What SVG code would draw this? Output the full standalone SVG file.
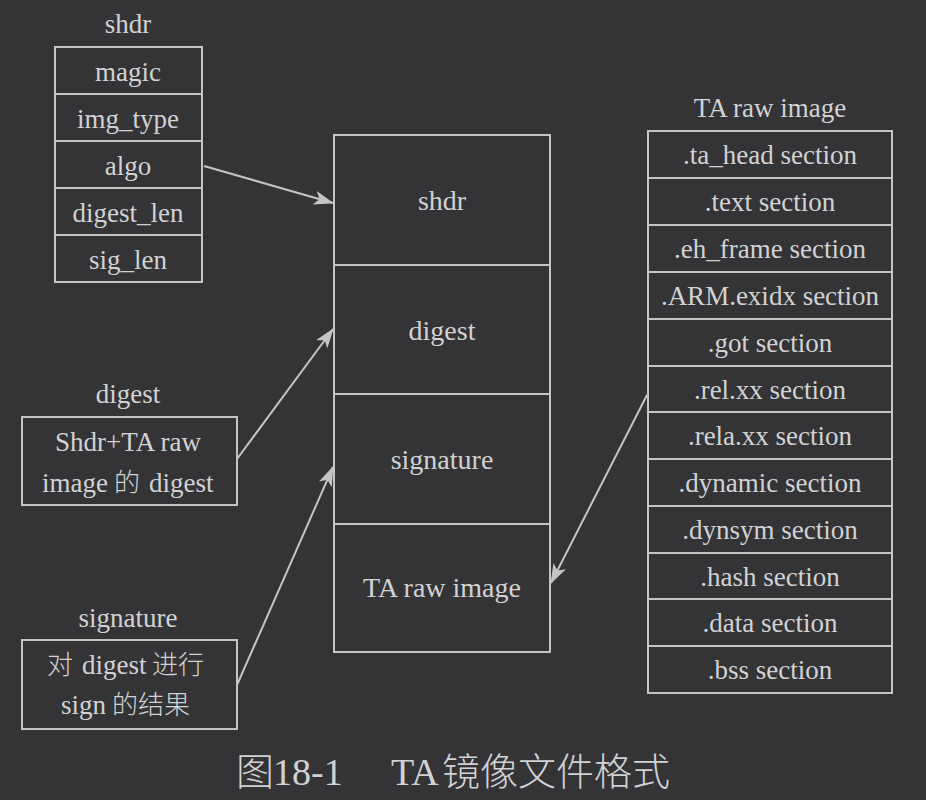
<svg xmlns="http://www.w3.org/2000/svg" width="926" height="800" viewBox="0 0 926 800">
<style>
.bx{fill:none;stroke:#c4c4c6;stroke-width:2}
.t{font-family:"Liberation Serif",serif;fill:#d2d2d4;text-anchor:middle;font-size:27px}
.s{font-family:"Liberation Serif",serif;fill:#d2d2d4;font-size:27px}
.m{font-size:28px}
.cj{font-family:"Noto Sans CJK SC",sans-serif;fill:#d2d2d4;font-size:26px;font-weight:300}
.cap{font-family:"Liberation Serif",serif;fill:#d2d2d4;font-size:38px}
.capc{font-family:"Noto Sans CJK SC",sans-serif;fill:#d2d2d4;font-size:38px;font-weight:300}
.c{stroke:#c4c4c6;stroke-width:2;fill:none;marker-end:url(#ah)}
</style>
<defs>
<marker id="ah" viewBox="0 0 20 14" refX="19" refY="7" markerWidth="20" markerHeight="14" markerUnits="userSpaceOnUse" orient="auto">
<path d="M0,0 L20,7 L0,14 L5,7 z" fill="#c4c4c6"/>
</marker>
</defs>
<rect width="926" height="800" fill="#343437"/>

<g id="shdr-table">
<text class="t" x="128" y="33">shdr</text>
<rect class="bx" x="55" y="47" width="147" height="235"/>
<line class="bx" x1="55" y1="94" x2="202" y2="94"/>
<line class="bx" x1="55" y1="141" x2="202" y2="141"/>
<line class="bx" x1="55" y1="188" x2="202" y2="188"/>
<line class="bx" x1="55" y1="235" x2="202" y2="235"/>
<text class="t" x="128" y="81">magic</text>
<text class="t" x="128" y="128">img_type</text>
<text class="t" x="128" y="175">algo</text>
<text class="t" x="128" y="222">digest_len</text>
<text class="t" x="128" y="269">sig_len</text>
</g>

<g id="digest-box">
<text class="t" x="128" y="403">digest</text>
<rect class="bx" x="22" y="417" width="215" height="88"/>
<text class="t" x="128" y="451">Shdr+TA raw</text>
<text class="s" x="42" y="492">image</text>
<text class="cj" x="114" y="492">的</text>
<text class="s" x="149" y="492">digest</text>
</g>

<g id="signature-box">
<text class="t" x="128" y="627">signature</text>
<rect class="bx" x="22" y="640" width="215" height="89"/>
<text class="cj" x="47" y="674">对</text>
<text class="s" x="82" y="674">digest</text>
<text class="cj" x="152" y="674">进行</text>
<text class="s" x="61" y="714">sign</text>
<text class="cj" x="112" y="714">的结果</text>
</g>

<g id="image-layout">
<rect class="bx" x="334" y="135" width="216" height="517"/>
<line class="bx" x1="334" y1="265" x2="550" y2="265"/>
<line class="bx" x1="334" y1="394" x2="550" y2="394"/>
<line class="bx" x1="334" y1="524" x2="550" y2="524"/>
<text class="t m" x="442" y="210">shdr</text>
<text class="t m" x="442" y="340">digest</text>
<text class="t m" x="442" y="469">signature</text>
<text class="t m" x="442" y="597">TA raw image</text>
</g>

<g id="ta-raw-image">
<text class="t" x="770" y="117">TA raw image</text>
<rect class="bx" x="648" y="131" width="244" height="562"/>
<line class="bx" x1="648" y1="178" x2="892" y2="178"/>
<line class="bx" x1="648" y1="225" x2="892" y2="225"/>
<line class="bx" x1="648" y1="272" x2="892" y2="272"/>
<line class="bx" x1="648" y1="319" x2="892" y2="319"/>
<line class="bx" x1="648" y1="366" x2="892" y2="366"/>
<line class="bx" x1="648" y1="412" x2="892" y2="412"/>
<line class="bx" x1="648" y1="459" x2="892" y2="459"/>
<line class="bx" x1="648" y1="506" x2="892" y2="506"/>
<line class="bx" x1="648" y1="553" x2="892" y2="553"/>
<line class="bx" x1="648" y1="599" x2="892" y2="599"/>
<line class="bx" x1="648" y1="646" x2="892" y2="646"/>
<text class="t" x="770" y="164">.ta_head section</text>
<text class="t" x="770" y="211">.text section</text>
<text class="t" x="770" y="258">.eh_frame section</text>
<text class="t" x="770" y="305">.ARM.exidx section</text>
<text class="t" x="770" y="352">.got section</text>
<text class="t" x="770" y="399">.rel.xx section</text>
<text class="t" x="770" y="445">.rela.xx section</text>
<text class="t" x="770" y="492">.dynamic section</text>
<text class="t" x="770" y="539">.dynsym section</text>
<text class="t" x="770" y="586">.hash section</text>
<text class="t" x="770" y="632">.data section</text>
<text class="t" x="770" y="679">.bss section</text>
</g>

<g id="connectors">
<line class="c" x1="204" y1="166" x2="333" y2="203"/>
<line class="c" x1="237" y1="459" x2="333" y2="329"/>
<line class="c" x1="237" y1="685" x2="333" y2="467"/>
<line class="c" x1="647" y1="395" x2="551" y2="583"/>
</g>

<g id="caption">
<text class="capc" x="236" y="785">图</text>
<text class="cap" x="273" y="785">18-1</text>
<text class="cap" x="391" y="785">TA</text>
<text class="capc" x="442" y="785">镜像文件格式</text>
</g>
</svg>
